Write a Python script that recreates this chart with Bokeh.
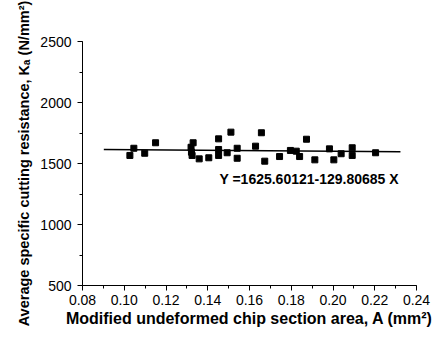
from bokeh.plotting import figure
from bokeh.models import Range1d, SingleIntervalTicker, PrintfTickFormatter, Label, ColumnDataSource
from bokeh.embed import file_html
from bokeh.resources import INLINE

# Data
area = [0.1027, 0.1046, 0.1098, 0.1150, 0.1320, 0.1322, 0.1325, 0.1330,
        0.1359, 0.1405, 0.1452, 0.1452, 0.1452, 0.1493, 0.1511, 0.1541,
        0.1541, 0.1629, 0.1657, 0.1673, 0.1744, 0.1796, 0.1824, 0.1840,
        0.1873, 0.1913, 0.1983, 0.2004, 0.2039, 0.2092, 0.2092, 0.2204]
ka = [1566, 1625, 1584, 1670, 1633, 1593, 1566, 1670,
      1538, 1547, 1702, 1615, 1566, 1588, 1757, 1625,
      1543, 1642, 1752, 1519, 1557, 1607, 1601, 1557,
      1699, 1530, 1620, 1530, 1580, 1629, 1566, 1588]

fit_intercept = 1625.60121
fit_slope = -129.80685
fit_x = [0.0902, 0.2323]
fit_y = [fit_intercept + fit_slope * x for x in fit_x]
fit_text = "Y =1625.60121-129.80685 X"

x_ticks_interval = 0.02
y_ticks_interval = 500

FONT = "Liberation Sans"

p = figure(width=443, height=347, output_backend="svg", toolbar_location=None,
           x_range=Range1d(0.08, 0.24), y_range=Range1d(500, 2500),
           min_border_left=82, min_border_right=27, min_border_top=41,
           min_border_bottom=62)
p.outline_line_color = None
p.grid.visible = False
p.background_fill_color = "white"
p.border_fill_color = "white"

p.line(fit_x, fit_y, line_color="black", line_width=1.5)
src = ColumnDataSource(dict(x=area, y=ka))
p.scatter("x", "y", source=src, marker="square", size=6,
          fill_color="black", line_color="black")

p.add_layout(Label(x=0.1456, y=1377, text=fit_text, text_font=FONT,
                   text_font_size="14px", text_font_style="bold",
                   text_baseline="middle", text_color="black"))

for ax in (p.xaxis[0], p.yaxis[0]):
    ax.axis_line_color = "black"
    ax.axis_line_width = 1
    ax.major_tick_line_color = "black"
    ax.minor_tick_line_color = "black"
    ax.major_tick_out = 5
    ax.major_tick_in = 0
    ax.minor_tick_out = 3
    ax.minor_tick_in = 0
    ax.major_label_text_font = FONT
    ax.major_label_text_font_size = "14px"
    ax.major_label_text_color = "black"
    ax.axis_label_text_font = FONT
    ax.axis_label_text_font_style = "bold"
    ax.axis_label_text_color = "black"

p.xaxis.axis_label_text_font_size = "16px"
p.yaxis.axis_label_text_font_size = "14.5px"
p.xaxis.ticker = SingleIntervalTicker(interval=x_ticks_interval, num_minor_ticks=2)
p.yaxis.ticker = SingleIntervalTicker(interval=y_ticks_interval, num_minor_ticks=2)
p.xaxis.formatter = PrintfTickFormatter(format="%.2f")
p.yaxis.formatter = PrintfTickFormatter(format="%d")
p.xaxis.major_label_standoff = 4
p.yaxis.major_label_standoff = 6
p.xaxis.axis_label = "Modified undeformed chip section area, A (mm²)"
p.yaxis.axis_label = "Average specific cutting resistance, Kₐ (N/mm²)"
p.xaxis.axis_label_standoff = 2
p.yaxis.axis_label_standoff = 5

open("out.html", "w").write(file_html(p, INLINE))
